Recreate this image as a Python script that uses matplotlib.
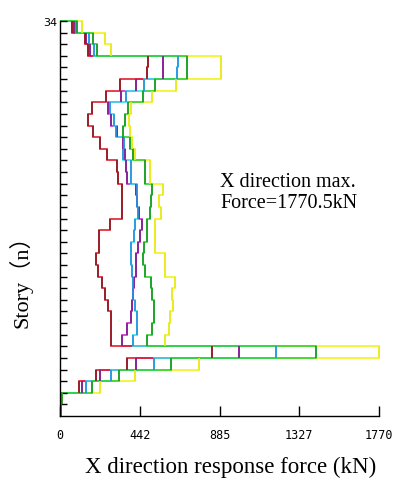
import numpy as np
import matplotlib
matplotlib.use("Agg")
import matplotlib.pyplot as plt

# story shear per floor, story 1 .. 34 (kN)
stories = np.arange(1, 35)

red = [5, 8, 108, 198, 373, 841, 283, 283, 283, 268,
       249, 233, 212, 197, 215, 215, 277, 342, 342, 342,
       323, 319, 259, 222, 185, 157, 175, 255, 335, 482,
       491, 157, 139, 69]
magenta = [5, 8, 122, 224, 424, 994, 342, 370, 394, 397,
           406, 410, 421, 421, 431, 443, 453, 441, 430, 421,
           369, 366, 360, 351, 314, 285, 266, 341, 424, 573,
           573, 166, 144, 79]
cyan = [5, 8, 146, 283, 523, 1201, 406, 425, 425, 416,
        406, 406, 397, 394, 394, 410, 416, 432, 430, 425,
        394, 394, 349, 355, 309, 299, 277, 366, 468, 647,
        656, 191, 161, 89]
green = [6, 10, 175, 330, 615, 1423, 481, 508, 521, 521,
         508, 504, 471, 462, 466, 481, 481, 499, 504, 508,
         474, 471, 405, 388, 351, 363, 377, 460, 527, 704,
         704, 208, 183, 96]
yellow = [6, 10, 220, 418, 770, 1770.5, 582, 604, 610, 628,
          619, 637, 582, 582, 527, 527, 527, 560, 549, 573,
          502, 499, 416, 399, 391, 385, 394, 508, 643, 892,
          892, 285, 249, 122]

xticks = [0, 442, 885, 1327, 1770]

fig = plt.figure(figsize=(3.95, 4.81), dpi=100)
ax = fig.add_axes([60/395, 64/481, 319/395, 395/481])

edges = np.arange(0, 35)
# (values, horizontal colour, vertical colour) - verticals look darker in the original
series = [(yellow, '#f2f21e', '#e8e820'), (magenta, '#d030d0', '#7a2090'),
          (red, '#e02030', '#8a1c24'), (cyan, '#30e4f4', '#2a8ee0'),
          (green, '#30d430', '#1e9a2a')]
for vals, c, dk in series:
    ax.stairs(vals, edges, orientation='horizontal', baseline=0,
              fill=False, color=c, lw=1.2, clip_on=False)
    ax.vlines(vals, edges[:-1], edges[1:], color=dk, lw=1.2, clip_on=False)

ax.set_xlim(0, 1770)
ax.set_ylim(0, 34)
for s in ['top', 'right']:
    ax.spines[s].set_visible(False)
ax.spines['left'].set_linewidth(1.0)
ax.spines['bottom'].set_linewidth(1.0)

ax.set_yticks(stories)
ax.set_yticklabels([''] * 33 + ['34'], fontsize=8, family='DejaVu Sans')
ax.tick_params(axis='y', direction='in', length=5, width=1, pad=2)
ax.set_xticks(xticks)
ax.set_xticklabels([str(t) for t in xticks], fontsize=8.5, family='DejaVu Sans Mono')
ax.tick_params(axis='x', direction='in', length=7, width=1, pad=9)

serif = ['Liberation Serif', 'Noto Sans CJK SC']
fig.text(0.5835, 0.029, 'X direction response force (kN)', fontsize=16.5,
         family=serif, ha='center', va='center')
fig.text(0.052, 0.426, 'Story（n）', rotation=90, fontsize=16, family=serif,
         ha='center', va='center')
fig.text(0.557, 0.598, 'X direction max.\nForce=1770.5kN', fontsize=14.5, family=serif,
         ha='left', va='center', linespacing=1.15)

fig.savefig('out.png', dpi=100)
